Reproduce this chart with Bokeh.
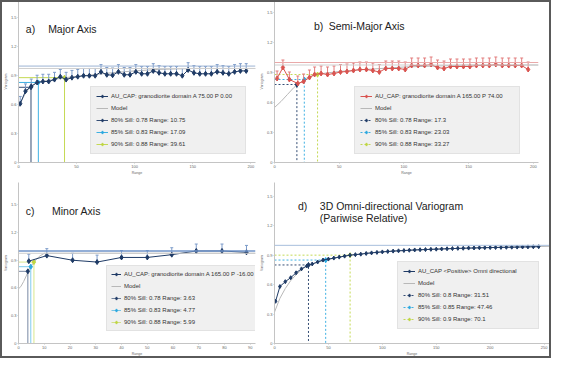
from bokeh.plotting import figure
from bokeh.layouts import column, row
from bokeh.models import Legend, LegendItem, FixedTicker, Label, Range1d, Span, InlineStyleSheet
from bokeh.embed import file_html
from bokeh.resources import INLINE

NAVY = "#1f3b66"
LBLUE = "#2aa8e0"
YGREEN = "#bfd641"
RED = "#d9534f"
MODEL = "#b8b8b8"
FONT = "Liberation Sans"
NB = "\u00a0"

y_ticks = [0, 0.3, 0.6, 0.9, 1.2, 1.5]
x_ticks_long = [0, 50, 100, 150, 200]
x_ticks_d = [0, 50, 100, 150, 200, 250]
x_ticks_c = [0, 10, 20, 30, 40, 50, 60, 70, 80, 90]
level_labels_pct = ["80%", "85%", "90%"]

# ---------------- a) Major Axis ----------------
a_lag = [1.5, 6, 11, 16, 21, 26, 31, 36, 41, 46, 51, 56, 61, 66, 71, 76, 81, 86, 91, 96,
         101, 106, 111, 116, 121, 126, 131, 136, 141, 146, 151, 156, 161, 166, 171, 176, 181, 186, 191, 196]
a_gamma = [0.61, 0.74, 0.79, 0.83, 0.84, 0.84, 0.86, 0.89, 0.86, 0.88, 0.89, 0.90, 0.90, 0.90, 0.94, 0.91,
           0.905, 0.94, 0.91, 0.91, 0.94, 0.92, 0.92, 0.95, 0.93, 0.92, 0.92, 0.92, 0.90, 0.96, 0.93, 0.92,
           0.92, 0.92, 0.94, 0.93, 0.92, 0.94, 0.95, 0.95]
a_model_x = [0, 3, 6, 10, 15, 20, 30, 40, 60, 80, 100, 120, 150, 204]
a_model_y = [0.57, 0.65, 0.72, 0.78, 0.82, 0.84, 0.86, 0.88, 0.905, 0.93, 0.95, 0.965, 0.975, 0.975]
a_sills = [0.78, 0.83, 0.88]
a_ranges = [10.75, 17.09, 39.61]
a_series = "AU_CAP: granodiorite domain A 75.00 P 0.00"

# ---------------- b) Semi-Major Axis ----------------
b_lag = [2, 6.5, 11.5, 18, 22.5, 27, 31, 36, 41, 46, 51, 56, 61, 66, 71, 76, 81, 86, 91, 96,
         101, 106, 111, 116, 121, 126, 131, 136, 141, 146, 151, 156, 161, 166, 171, 176, 181, 186, 191, 196]
b_gamma = [0.84, 0.95, 0.83, 0.79, 0.81, 0.85, 0.88, 0.89, 0.88, 0.89, 0.905, 0.91, 0.92, 0.93, 0.93, 0.92,
           0.905, 0.94, 0.94, 0.94, 0.93, 0.97, 0.97, 0.97, 0.98, 0.95, 0.94, 0.96, 0.96, 0.96, 0.96, 0.97,
           0.97, 0.97, 0.98, 0.97, 0.97, 0.97, 0.97, 0.93]
b_model_x = [0, 5, 10, 15, 20, 25, 30, 35, 40, 50, 70, 100, 150, 204]
b_model_y = [0.55, 0.61, 0.68, 0.75, 0.80, 0.845, 0.87, 0.885, 0.895, 0.91, 0.93, 0.955, 0.975, 0.975]
b_sills = [0.78, 0.83, 0.88]
b_ranges = [17.3, 23.03, 33.27]
b_series = "AU_CAP: granodiorite domain A 165.00 P 74.00"

# ---------------- c) Minor Axis ----------------
c_lag = [4, 11, 21, 30.5, 40, 50, 59.5, 69, 79, 88.5]
c_gamma = [0.89, 0.95, 0.90, 0.88, 0.93, 0.93, 0.96, 1.0, 1.0, 0.985]
c_model_x = [0, 1, 2, 3, 4, 5, 6, 7, 8, 10, 92]
c_model_y = [0.59, 0.62, 0.67, 0.73, 0.795, 0.84, 0.88, 0.91, 0.94, 0.975, 0.975]
c_sills = [0.78, 0.83, 0.88]
c_ranges = [3.63, 4.77, 5.99]
c_series = "AU_CAP: granodiorite domain A 165.00 P -16.00"

# ---------------- d) 3D Omni-directional ----------------
d_lag = [1, 5, 10, 15, 20, 25, 30, 35, 40, 45, 50, 55, 60, 65, 70, 75, 80, 85, 90, 95, 100, 105, 110,
         115, 120, 125, 130, 135, 140, 145, 150, 155, 160, 165, 170, 175, 180, 185, 190, 195, 200, 205,
         210, 215, 220, 225, 230, 235, 240, 245]
d_gamma = [0.43, 0.58, 0.63, 0.67, 0.72, 0.76, 0.79, 0.81, 0.83, 0.85, 0.86, 0.87, 0.88, 0.89, 0.90,
           0.905, 0.91, 0.917, 0.923, 0.928, 0.933, 0.937, 0.941, 0.944, 0.947, 0.95, 0.953, 0.955, 0.957,
           0.959, 0.961, 0.963, 0.965, 0.967, 0.969, 0.97, 0.972, 0.973, 0.975, 0.976, 0.977, 0.978, 0.979,
           0.98, 0.981, 0.982, 0.983, 0.984, 0.985, 0.986]
d_model_x = [0, 5, 10, 15, 20, 25, 30, 40, 50, 60, 70, 85, 100, 125, 150, 200, 255]
d_model_y = [0.32, 0.46, 0.56, 0.64, 0.70, 0.75, 0.79, 0.83, 0.855, 0.88, 0.90, 0.92, 0.935, 0.95, 0.962, 0.978, 0.99]
d_sills = [0.8, 0.85, 0.9]
d_ranges = [31.51, 47.46, 70.1]
d_series = "AU_CAP <Positive> Omni directional"

LEVEL_COLORS = [NAVY, LBLUE, YGREEN]


def make_panel(width, height, borders, xmax, xticks, ymax, lag, gamma, color, bar_color,
               var_color, var_width, model_sill, model_x, model_y, sills, ranges, series,
               legend_loc, pad_spaces, titles, level_dash, level_alpha=0.9, bars=True, msize=5,
               lpad=5, lglyph=12):
    p = figure(width=width, height=height, output_backend="svg", toolbar_location=None,
               x_range=Range1d(0, xmax), y_range=Range1d(0, ymax))
    p.title.visible = False
    p.min_border_left, p.min_border_right, p.min_border_top, p.min_border_bottom = borders
    p.grid.visible = False
    p.outline_line_color = None
    p.background_fill_color = "white"
    p.border_fill_color = "white"

    for ax, lab, ticks in ((p.xaxis, "Range", xticks), (p.yaxis, "Variogram", y_ticks)):
        ax.ticker = FixedTicker(ticks=ticks)
        ax.axis_label = lab
        ax.axis_label_text_font_size = "3.5px"
        ax.axis_label_text_font_style = "normal"
        ax.axis_label_text_font = FONT
        ax.axis_label_text_color = "#666666"
        ax.axis_label_standoff = 0
        ax.major_label_text_font_size = "4px"
        ax.major_label_text_font = FONT
        ax.major_label_text_color = "#666666"
        ax.major_label_standoff = 1
        ax.major_tick_out = 1
        ax.major_tick_in = 0
        ax.minor_tick_out = 0
        ax.minor_tick_in = 0
        ax.axis_line_color = "#c4c4c4"
        ax.major_tick_line_color = "#c4c4c4"
    p.yaxis.major_label_orientation = "horizontal"

    # variance / sill lines
    p.add_layout(Span(location=1.0, dimension="width", line_color=var_color, line_width=var_width))
    if model_sill is not None:
        p.add_layout(Span(location=model_sill, dimension="width", line_color="#cfcfcf", line_width=1))

    # model
    model_r = p.line(model_x, model_y, line_color=MODEL, line_width=1)

    # sill level lines
    level_items = []
    for sill, rng, col, pct in zip(sills, ranges, LEVEL_COLORS, level_labels_pct):
        ml = p.multi_line(xs=[[0, rng, rng]], ys=[[sill, sill, 0]], line_color=col,
                          line_width=1, line_dash=level_dash, line_alpha=level_alpha)
        sc = p.scatter([rng], [sill], marker="diamond", size=5, color=col)
        level_items.append(LegendItem(label=f"{pct} Sill: {sill} Range: {rng}", renderers=[ml, sc]))

    # error bars
    if bars:
        top = [g + 0.075 for g in gamma]
        bot = [g + 0.02 for g in gamma]
        p.segment(x0=lag, y0=bot, x1=lag, y1=top, line_color=bar_color, line_width=1)
        p.scatter(lag, top, marker="dash", size=3, line_color=bar_color, line_width=1)

    # data
    dl = p.line(lag, gamma, line_color=color, line_width=1)
    ds = p.scatter(lag, gamma, marker="diamond", size=msize, color=color)

    items = [LegendItem(label=series + NB * pad_spaces, renderers=[dl, ds]),
             LegendItem(label="Model", renderers=[model_r])] + level_items
    legend = Legend(items=items, location=legend_loc, label_text_font_size="6px",
                    label_text_font=FONT, label_text_color="#333333",
                    background_fill_color="#f0f0f0", background_fill_alpha=1,
                    border_line_color="#d4d4d4", glyph_width=lglyph, glyph_height=8,
                    label_height=8, label_standoff=3, spacing=4,
                    padding=lpad, margin=0)
    p.add_layout(legend, "center")

    for (tx, ty, txt) in titles:
        p.add_layout(Label(x=tx, y=ty, text=txt, text_font_size="10.5px", text_font=FONT,
                           text_color="#222222", text_baseline="middle"))
    return p


pa = make_panel(256, 182, (0, 1, 0, 20), 204, x_ticks_long, 1.68, a_lag, a_gamma, NAVY, "#7c9bc9",
                "#9db3d3", 1, 0.975, a_model_x, a_model_y, a_sills, a_ranges, a_series, (72, 8), 5,
                [(6.3, 1.385, "a)"), (25.5, 1.385, "Major Axis")], "solid")
pb = make_panel(295, 182, (0, 13, 0, 14), 204, x_ticks_long, 1.62, b_lag, b_gamma, RED, "#e27d7d",
                "#e9a9a9", 1, 0.975, b_model_x, b_model_y, b_sills, b_ranges, b_series, (80, 8), 7,
                [(30.5, 1.37, "b)"), (41.9, 1.37, "Semi-Major Axis")], "2 2")
pc = make_panel(256, 176, (0, 1, 0, 5), 92, x_ticks_c, 1.74, c_lag, c_gamma, NAVY, "#7c9bc9",
                "#6f93c9", 1.5, 0.975, c_model_x, c_model_y, c_sills, c_ranges, c_series, (88, 12), 0,
                [(2.8, 1.436, "c)"), (13, 1.436, "Minor Axis")], "solid", level_alpha=0.6,
                lpad=4, lglyph=10)
pd_ = make_panel(295, 176, (5, 2, 0, 0), 255, x_ticks_d, 1.64, d_lag, d_gamma, NAVY, "#7c9bc9",
                 "#a8bfdc", 1, None, d_model_x, d_model_y, d_sills, d_ranges, d_series, (123, 14), 10,
                 [(21.7, 1.40, "d)"), (42, 1.40, "3D Omni-directional Variogram"),
                  (42, 1.28, "(Pariwise Relative)")], "2 2", bars=False, msize=4)

frame_css = InlineStyleSheet(css="""
:host { position: relative; }
:host::after { content: ''; position: absolute; left: 0; top: 0; right: 0; bottom: 0;
  border: 2px solid #5a5a5a; pointer-events: none; z-index: 100; box-sizing: border-box; }
""")

layout = column(row(pa, pb), row(pc, pd_), stylesheets=[frame_css])

open("out.html", "w").write(file_html(layout, INLINE))
